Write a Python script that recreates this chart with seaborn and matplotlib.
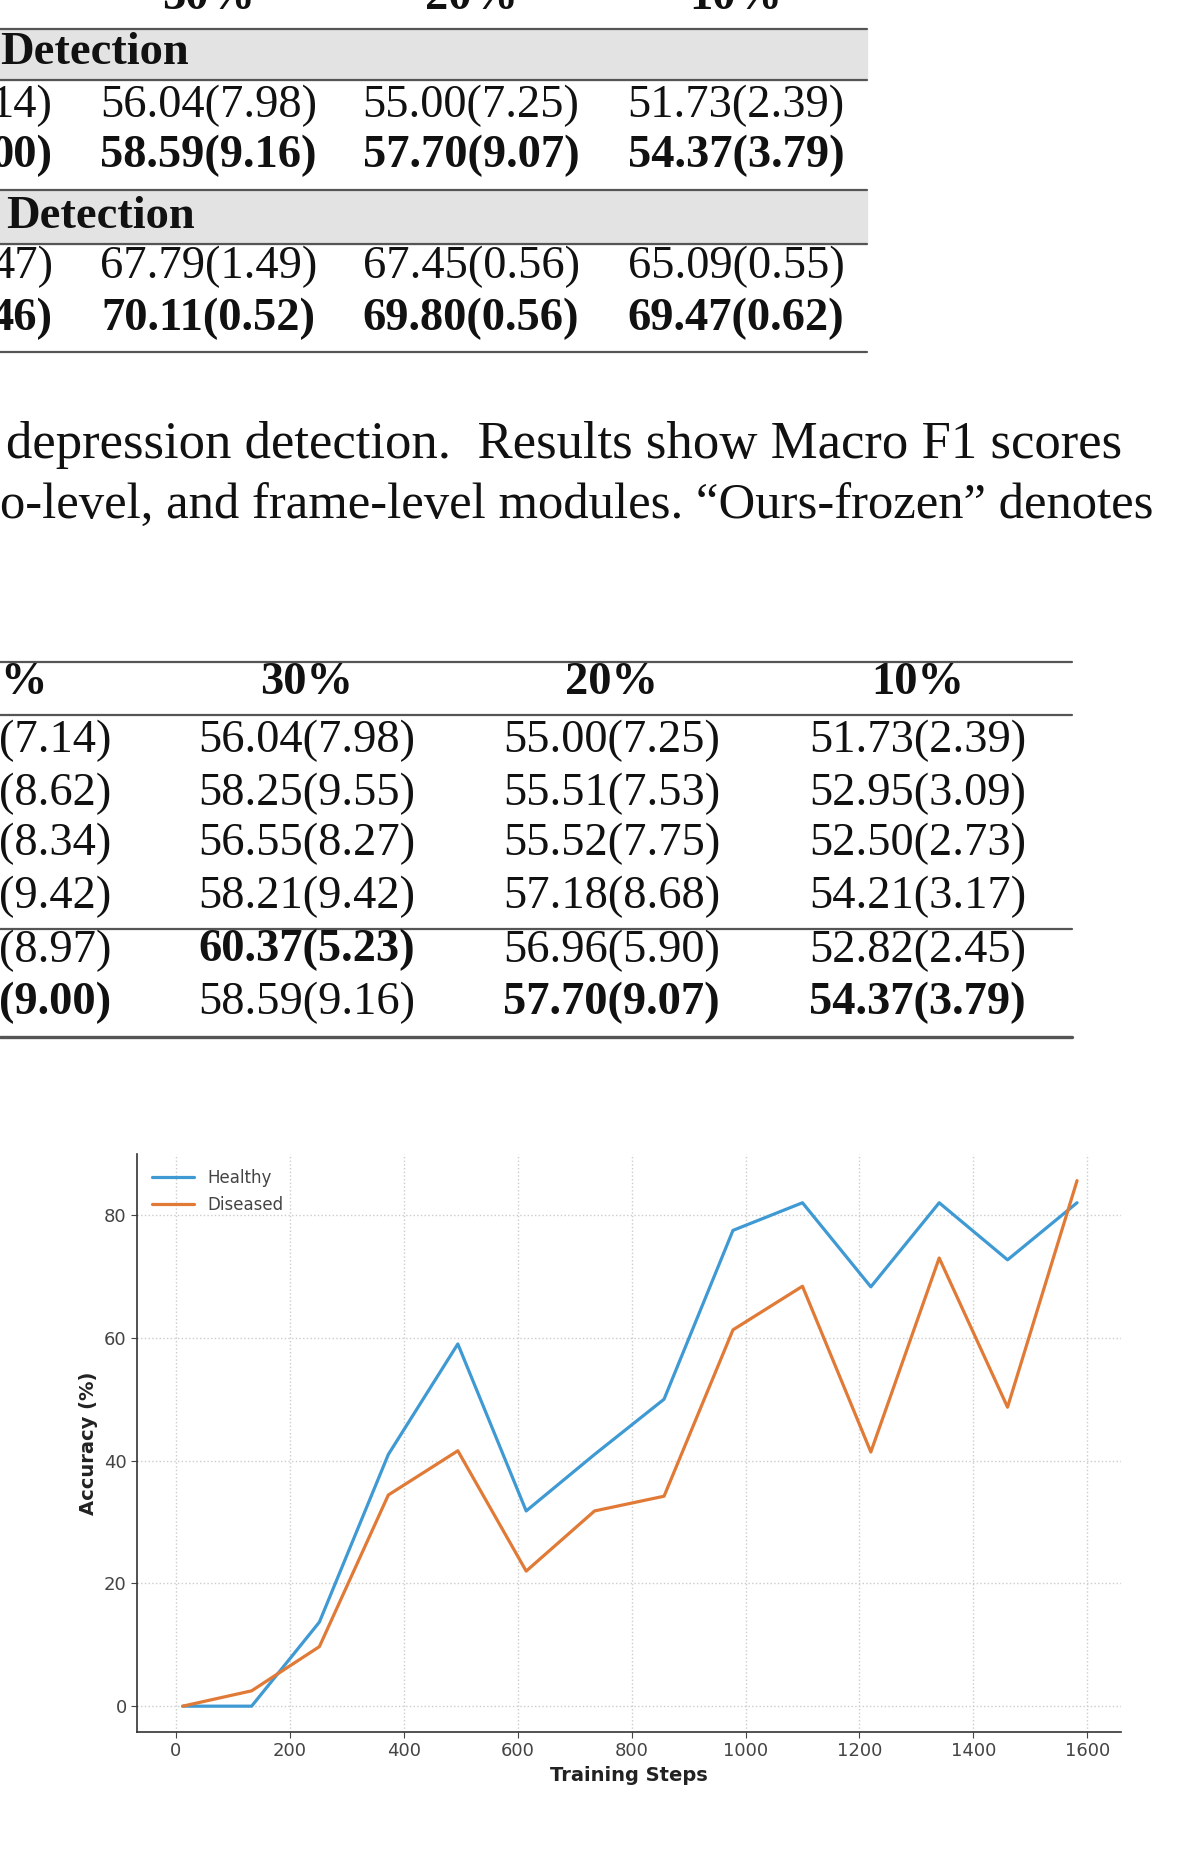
import matplotlib
matplotlib.use("Agg")
import matplotlib.pyplot as plt
import seaborn as sns
import pandas as pd
from matplotlib.lines import Line2D
from matplotlib.patches import Rectangle

# ---------------- data ----------------
steps = [12, 133, 252, 373, 495, 615, 735, 857, 978, 1100, 1220, 1340, 1460, 1582]
healthy = [0, 0, 13.7, 41, 59, 31.8, 41, 50, 77.5, 82, 68.3, 82, 72.7, 82]
diseased = [0, 2.5, 9.7, 34.4, 41.6, 22, 31.8, 34.2, 61.3, 68.4, 41.4, 73, 48.7, 85.6]

t1_header = ["30%", "20%", "10%"]
t1_section = ["Detection", "Detection"]
t1_left = ["14)", "00)", "47)", "46)"]
t1_rows = [["56.04(7.98)", "55.00(7.25)", "51.73(2.39)"],
           ["58.59(9.16)", "57.70(9.07)", "54.37(3.79)"],
           ["67.79(1.49)", "67.45(0.56)", "65.09(0.55)"],
           ["70.11(0.52)", "69.80(0.56)", "69.47(0.62)"]]
t1_bold = [False, True, False, True]

caption = ["depression detection.  Results show Macro F1 scores",
           "o-level, and frame-level modules. \u201cOurs-frozen\u201d denotes"]

t2_header = ["%", "30%", "20%", "10%"]
t2_rows = [["(7.14)", "56.04(7.98)", "55.00(7.25)", "51.73(2.39)"],
           ["(8.62)", "58.25(9.55)", "55.51(7.53)", "52.95(3.09)"],
           ["(8.34)", "56.55(8.27)", "55.52(7.75)", "52.50(2.73)"],
           ["(9.42)", "58.21(9.42)", "57.18(8.68)", "54.21(3.17)"],
           ["(8.97)", "60.37(5.23)", "56.96(5.90)", "52.82(2.45)"],
           ["(9.00)", "58.59(9.16)", "57.70(9.07)", "54.37(3.79)"]]
t2_bold = [[False]*4, [False]*4, [False]*4, [False]*4,
           [False, True, False, False],
           [True, False, True, True]]

# ---------------- figure ----------------
sns.set_style("white")
plt.rcParams['font.family'] = ['DejaVu Sans']
W, H = 1024.0, 1583.0
fig = plt.figure(figsize=(12, 18.55), dpi=100)

def fx(x): return x / W
def fy(y): return 1 - y / H
SERIF = ['Liberation Serif', 'DejaVu Serif']
FS = 33.5

def txt(x, y, s, ha='center', bold=False, size=FS):
    fig.text(fx(x), fy(y), s, ha=ha, va='center', family=SERIF,
             fontsize=size, fontweight='bold' if bold else 'normal', color='#111111')

def hline(y, x0, x1, lw=1.6, c='#555555'):
    fig.add_artist(Line2D([fx(x0), fx(x1)], [fy(y), fy(y)], lw=lw, color=c,
                          transform=fig.transFigure))

def band(y0, y1, x0, x1):
    fig.add_artist(Rectangle((fx(x0), fy(y1)), fx(x1) - fx(x0), fy(y0) - fy(y1),
                             color='#e3e3e3', transform=fig.transFigure, zorder=0))

# table 1
t1_cols = [178, 402, 628]
for x, h in zip(t1_cols, t1_header):
    txt(x, -2, h, bold=True)
band(25, 68, 0, 740); band(162, 208, 0, 740)
for y in [25, 68, 162, 208, 300]:
    hline(y, 0, 740)
txt(0, 45, t1_section[0], ha='left', bold=True)
txt(5, 185, t1_section[1], ha='left', bold=True)
for y, left, row, b in zip([90, 133, 228, 272], t1_left, t1_rows, t1_bold):
    txt(45, y, left, ha='right', bold=b)
    for x, s in zip(t1_cols, row):
        txt(x, y, s, bold=b)

# caption
txt(5, 380, caption[0], ha='left', size=38)
txt(0, 432, caption[1], ha='left', size=36.5)

# table 2
t2_cols = [262, 522, 783]
hline(565, 0, 915); hline(610, 0, 915); hline(793, 0, 915); hline(885, 0, 915, lw=2.4)
txt(0, 583, t2_header[0], ha='left', bold=True)
for x, h in zip(t2_cols, t2_header[1:]):
    txt(x, 583, h, bold=True)
for y, row, b in zip([632, 677, 720, 765, 811, 856], t2_rows, t2_bold):
    txt(95, y, row[0], ha='right', bold=b[0])
    for x, s, bb in zip(t2_cols, row[1:], b[1:]):
        txt(x, y, s, bold=bb)

# chart
ax = fig.add_axes([fx(117), fy(1478), fx(957) - fx(117), fy(985) - fy(1478)])
df = pd.DataFrame({"step": steps * 2, "acc": healthy + diseased,
                   "group": ["Healthy"] * len(steps) + ["Diseased"] * len(steps)})
sns.lineplot(data=df, x="step", y="acc", hue="group", ax=ax,
             palette={"Healthy": "#3f9ad3", "Diseased": "#e07a36"}, lw=2.3)
ax.set_xlim(-68, 1660)
ax.set_ylim(-4.2, 89.9)
ax.set_xticks(range(0, 1601, 200))
ax.set_yticks(range(0, 81, 20))
ax.grid(True, ls=':', color='#cccccc', lw=1)
for s in ['top', 'right']:
    ax.spines[s].set_visible(False)
for s in ['left', 'bottom']:
    ax.spines[s].set_color('#333333'); ax.spines[s].set_linewidth(1.2)
ax.tick_params(axis='both', labelsize=13, colors='#444444', length=4, left=True, bottom=True)
ax.set_xlabel("Training Steps", fontsize=14, fontweight='bold', color='#222222')
ax.set_ylabel("Accuracy (%)", fontsize=14, fontweight='bold', color='#222222')
leg = ax.legend(loc='upper left', frameon=False, fontsize=12, handlelength=2.5)
for t in leg.get_texts():
    t.set_color('#444444')

fig.savefig("out.png", dpi=100)
